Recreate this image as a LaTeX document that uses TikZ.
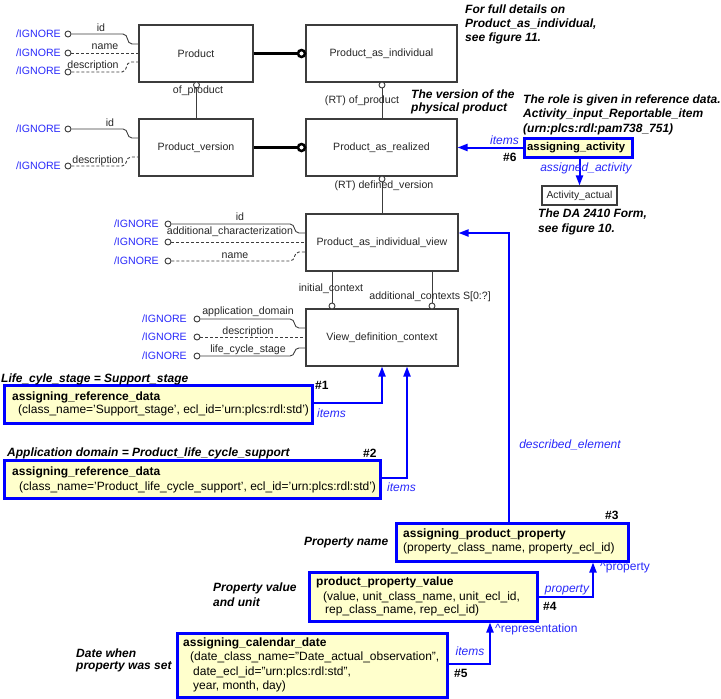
\documentclass[tikz,border=0pt]{standalone}
\usepackage{fontspec}
\setmainfont{Liberation Sans}
\usetikzlibrary{arrows.meta}
\definecolor{ignblue}{RGB}{40,40,250}
\definecolor{yfill}{RGB}{255,255,204}
\definecolor{lineg}{RGB}{60,60,60}
\begin{document}
\begin{tikzpicture}[x=1pt,y=-1pt,
  ent/.style={draw=lineg, line width=1.1pt, fill=white, inner sep=0, text=black!85, font=\fontsize{10.6}{12}\selectfont},
  ybox/.style={draw=blue, line width=3pt, fill=yfill, inner sep=0},
  sm/.style={font=\fontsize{10.6}{12}\selectfont, inner sep=0, text=black!85},
  ytxt/.style={font=\fontsize{12}{14}\selectfont, inner sep=0, anchor=west},
  ybold/.style={font=\fontsize{12}{14}\selectfont\bfseries, inner sep=0, anchor=west},
  note/.style={font=\fontsize{12}{14}\selectfont\bfseries\itshape, inner sep=0, anchor=west},
  ign/.style={sm, text=ignblue, anchor=east},
  blab/.style={font=\fontsize{12}{14}\selectfont\itshape, text=ignblue, inner sep=0},
  bplain/.style={font=\fontsize{12}{14}\selectfont, text=ignblue, inner sep=0, anchor=west},
  attr/.style={draw=lineg, line width=0.9pt},
  dattr/.style={attr, dash pattern=on 3pt off 2pt},
  opc/.style={circle, draw=lineg, line width=0.9pt, fill=white, minimum size=6pt, inner sep=0},
  bigc/.style={circle, draw=black, line width=2.5pt, fill=white, minimum size=7pt, inner sep=0},
  thickrel/.style={draw=black, line width=2.8pt},
  bluearr/.style={draw=blue, line width=2pt, -{Triangle[length=10pt,width=7pt]}}]
\useasboundingbox (0,0) rectangle (721,699);

% ---------- entities ----------
\node[ent, minimum width=114pt, minimum height=57pt] (prod) at (196,53.5) {Product};
\node[ent, minimum width=151pt, minimum height=57pt] (pai) at (381.5,53.5) {Product\_as\_individual};
\node[ent, minimum width=114pt, minimum height=57pt] (pv) at (196,147.5) {Product\_version};
\node[ent, minimum width=151pt, minimum height=57pt] (par) at (381.5,147.5) {Product\_as\_realized};
\node[ent, minimum width=152pt, minimum height=57pt] (paiv) at (382,242.5) {Product\_as\_individual\_view};
\node[ent, minimum width=152pt, minimum height=57pt] (vdc) at (382,337.5) {View\_definition\_context};
\node[ent, minimum width=75pt, minimum height=19pt, font=\fontsize{10.3}{12}\selectfont] (act) at (579.5,195.5) {Activity\_actual};

% ---------- thick relations ----------
\node[bigc] (bc1) at (301.5,53.5) {};
\node[bigc] (bc2) at (301.5,147.5) {};
\draw[thickrel] (prod.east) -- (bc1.west);
\draw[thickrel] (pv.east) -- (bc2.west);

% ---------- thin relations ----------
\node[opc] (o1) at (196.5,85) {};
\draw[attr] (o1.south) -- (o1.south |- pv.north);
\node[sm] (lofp) at (198,91) {of\_product};

\node[opc] (o2) at (382,85) {};
\draw[attr] (o2.south) -- (o2.south |- par.north);
\node[sm] (lrtofp) at (362,101) {(RT) of\_product};

\node[opc] (o3) at (382,179) {};
\draw[attr] (o3.south) -- (o3.south |- paiv.north);
\node[sm] (lrtdv) at (384,185.5) {(RT) defined\_version};

\node[opc] (o4) at (332,306) {};
\draw[attr] (o4.north |- paiv.south) -- (o4.north);
\node[sm] (linit) at (331,289) {initial\_context};

\node[opc] (o5) at (432,306) {};
\draw[attr] (o5.north |- paiv.south) -- (o5.north);
\node[sm, anchor=east] (laddc) at (491,297) {additional\_contexts S[0:?]};

% ---------- attributes of Product ----------
\node[ign] (ig1) at (61,34) {/IGNORE};
\node[ign] (ig2) at (61,53) {/IGNORE};
\node[ign] (ig3) at (61,71) {/IGNORE};
\node[opc] (a1) at (68,34) {};
\node[opc] (a2) at (68,53) {};
\node[opc] (a3) at (68,72) {};
\draw[attr] (a1.east) -- (123,34) .. controls (129,34) and (126,44) .. (132,44) -- (prod.west |- 0,44);
\draw[dattr] (a2.east) -- (prod.west |- 0,53);
\draw[dattr] (a3.east) -- (122,72) .. controls (128,72) and (125,62) .. (131,62) -- (prod.west |- 0,62);
\node[sm] (lid1) at (101,28) {id};
\node[sm] (lname1) at (105,47) {name};
\node[sm] (ldesc1) at (93,66) {description};

% ---------- attributes of Product_version ----------
\node[ign] (ig4) at (61,129) {/IGNORE};
\node[ign] (ig5) at (61,166) {/IGNORE};
\node[opc] (a4) at (68,129) {};
\node[opc] (a5) at (68,166) {};
\draw[attr] (a4.east) -- (123,129) .. controls (129,129) and (126,138) .. (132,138) -- (pv.west |- 0,138);
\draw[dattr] (a5.east) -- (122,166) .. controls (128,166) and (125,157) .. (131,157) -- (pv.west |- 0,157);
\node[sm] (lid2) at (110,123) {id};
\node[sm] (ldesc2) at (98,161) {description};

% ---------- attributes of Product_as_individual_view ----------
\node[ign] (ig6) at (159,224) {/IGNORE};
\node[ign] (ig7) at (159,242) {/IGNORE};
\node[ign] (ig8) at (159,261) {/IGNORE};
\node[opc] (a6) at (168,224) {};
\node[opc] (a7) at (168,242) {};
\node[opc] (a8) at (168,261) {};
\draw[attr] (a6.east) -- (290,224) .. controls (296,224) and (293,233) .. (299,233) -- (paiv.west |- 0,233);
\draw[dattr] (a7.east) -- (paiv.west |- 0,242);
\draw[dattr] (a8.east) -- (290,261) .. controls (296,261) and (293,252) .. (299,252) -- (paiv.west |- 0,252);
\node[sm] (lid3) at (240,217) {id};
\node[sm] (lachar) at (230,232) {additional\_characterization};
\node[sm] (lname3) at (235,256) {name};

% ---------- attributes of View_definition_context ----------
\node[ign] (ig9) at (187,319) {/IGNORE};
\node[ign] (ig10) at (187,337) {/IGNORE};
\node[ign] (ig11) at (187,356) {/IGNORE};
\node[opc] (a9) at (197,319) {};
\node[opc] (a10) at (197,337) {};
\node[opc] (a11) at (197,356) {};
\draw[attr] (a9.east) -- (290,319) .. controls (296,319) and (293,328) .. (299,328) -- (vdc.west |- 0,328);
\draw[dattr] (a10.east) -- (vdc.west |- 0,337);
\draw[attr] (a11.east) -- (290,356) .. controls (296,356) and (293,348) .. (299,348) -- (vdc.west |- 0,348);
\node[sm] (lappd) at (248,312) {application\_domain};
\node[sm] (ldesc4) at (248,332) {description};
\node[sm] (llcs) at (248,350) {life\_cycle\_stage};

% ---------- yellow boxes ----------
\node[ybox, minimum width=108pt, minimum height=19pt] (aa) at (578,147.5) {};
\node[ybold, font=\fontsize{11.3}{13}\selectfont\bfseries] (aat) at (527,147.5) {assigning\_activity};

\node[ybox, minimum width=308pt, minimum height=38pt] (rd1) at (158,404) {};
\node[ybold] (rd1a) at (12,397) {assigning\_reference\_data};
\node[ytxt] (rd1b) at (18,410) {(class\_name='Support\_stage', ecl\_id='urn:plcs:rdl:std')};

\node[ybox, minimum width=376pt, minimum height=38pt] (rd2) at (192,479) {};
\node[ybold] (rd2a) at (12,472) {assigning\_reference\_data};
\node[ytxt] (rd2b) at (19,487) {(class\_name='Product\_life\_cycle\_support', ecl\_id='urn:plcs:rdl:std')};

\node[ybox, minimum width=232pt, minimum height=38pt] (app) at (512,542) {};
\node[ybold] (appa) at (403,534) {assigning\_product\_property};
\node[ytxt] (appb) at (403,548) {(property\_class\_name, property\_ecl\_id)};

\node[ybox, minimum width=228pt, minimum height=49pt] (ppv) at (423,596.5) {};
\node[ybold] (ppva) at (316,582) {product\_property\_value};
\node[ytxt] (ppvb) at (323,597) {(value, unit\_class\_name, unit\_ecl\_id,};
\node[ytxt] (ppvc) at (325,610) {rep\_class\_name, rep\_ecl\_id)};

\node[ybox, minimum width=270pt, minimum height=64pt] (acd) at (312,665) {};
\node[ybold] (acda) at (183,643) {assigning\_calendar\_date};
\node[ytxt] (acdb) at (190,657) {(date\_class\_name="Date\_actual\_observation",};
\node[ytxt] (acdc) at (193,672) {date\_ecl\_id="urn:plcs:rdl:std",};
\node[ytxt] (acdd) at (193,686) {year, month, day)};

% ---------- blue connectors ----------
\draw[bluearr] (aa.west) -- (par.east |- aa.west);
\draw[bluearr] (act.north |- aa.south) -- (act.north);
\draw[bluearr] (rd1.east |- 0,403) -| (vdc.south -| 382,0);
\draw[bluearr] (rd2.east |- 0,478) -| (vdc.south -| 407,0);
\draw[bluearr] (app.north -| 509,0) |- (paiv.east |- 0,233);
\draw[bluearr] (ppv.east |- 0,597) -| (app.south -| 593,0);
\draw[bluearr] (acd.east |- 0,664) -| (ppv.south -| 490,0);

\node[blab, anchor=east] (litems6) at (519,140) {items};
\node[note, font=\fontsize{12}{14}\selectfont\bfseries] (n6) at (503,157) {\#6};
\node[blab] (lassact) at (586,168) {assigned\_activity};
\node[blab, anchor=west] (litems1) at (317,413) {items};
\node[blab, anchor=west] (litems2) at (387,487) {items};
\node[blab] (ldescel) at (570,445) {described\_element};
\node[blab] (lprop) at (567,590) {property};
\node[bplain] (lhprop) at (600,568) {\textasciicircum property};
\node[blab] (litems5) at (470,651) {items};
\node[bplain] (lhrep) at (495,629) {\textasciicircum representation};

\node[note, font=\fontsize{12}{14}\selectfont\bfseries] (n1) at (315,385) {\#1};
\node[note, font=\fontsize{12}{14}\selectfont\bfseries] (n2) at (363,453) {\#2};
\node[note, font=\fontsize{12}{14}\selectfont\bfseries] (n3) at (605,515) {\#3};
\node[note, font=\fontsize{12}{14}\selectfont\bfseries] (n4) at (543,606) {\#4};
\node[note, font=\fontsize{12}{14}\selectfont\bfseries] (n5) at (454,673) {\#5};

% ---------- notes ----------
\node[note] (nt1a) at (465,9) {For full details on};
\node[note] (nt1b) at (465,24) {Product\_as\_individual,};
\node[note] (nt1c) at (465,38) {see figure 11.};
\node[note] (nt2a) at (411,94) {The version of the};
\node[note] (nt2b) at (411,108) {physical product};
\node[note] (nt3a) at (523,100) {The role is given in reference data.};
\node[note] (nt3b) at (523,114) {Activity\_input\_Reportable\_item};
\node[note] (nt3c) at (523,129) {(urn:plcs:rdl:pam738\_751)};
\node[note] (nt4a) at (538,214) {The DA 2410 Form,};
\node[note] (nt4b) at (538,229) {see figure 10.};
\node[note] (nt5) at (1,379) {Life\_cyle\_stage = Support\_stage};
\node[note] (nt6) at (7,453) {Application domain = Product\_life\_cycle\_support};
\node[note] (nt7) at (304,543) {Property name};
\node[note] (nt8a) at (213,588) {Property value};
\node[note] (nt8b) at (213,602) {and unit};
\node[note] (nt9a) at (76,653) {Date when};
\node[note] (nt9b) at (76,667) {property was set};
\end{tikzpicture}
\end{document}
